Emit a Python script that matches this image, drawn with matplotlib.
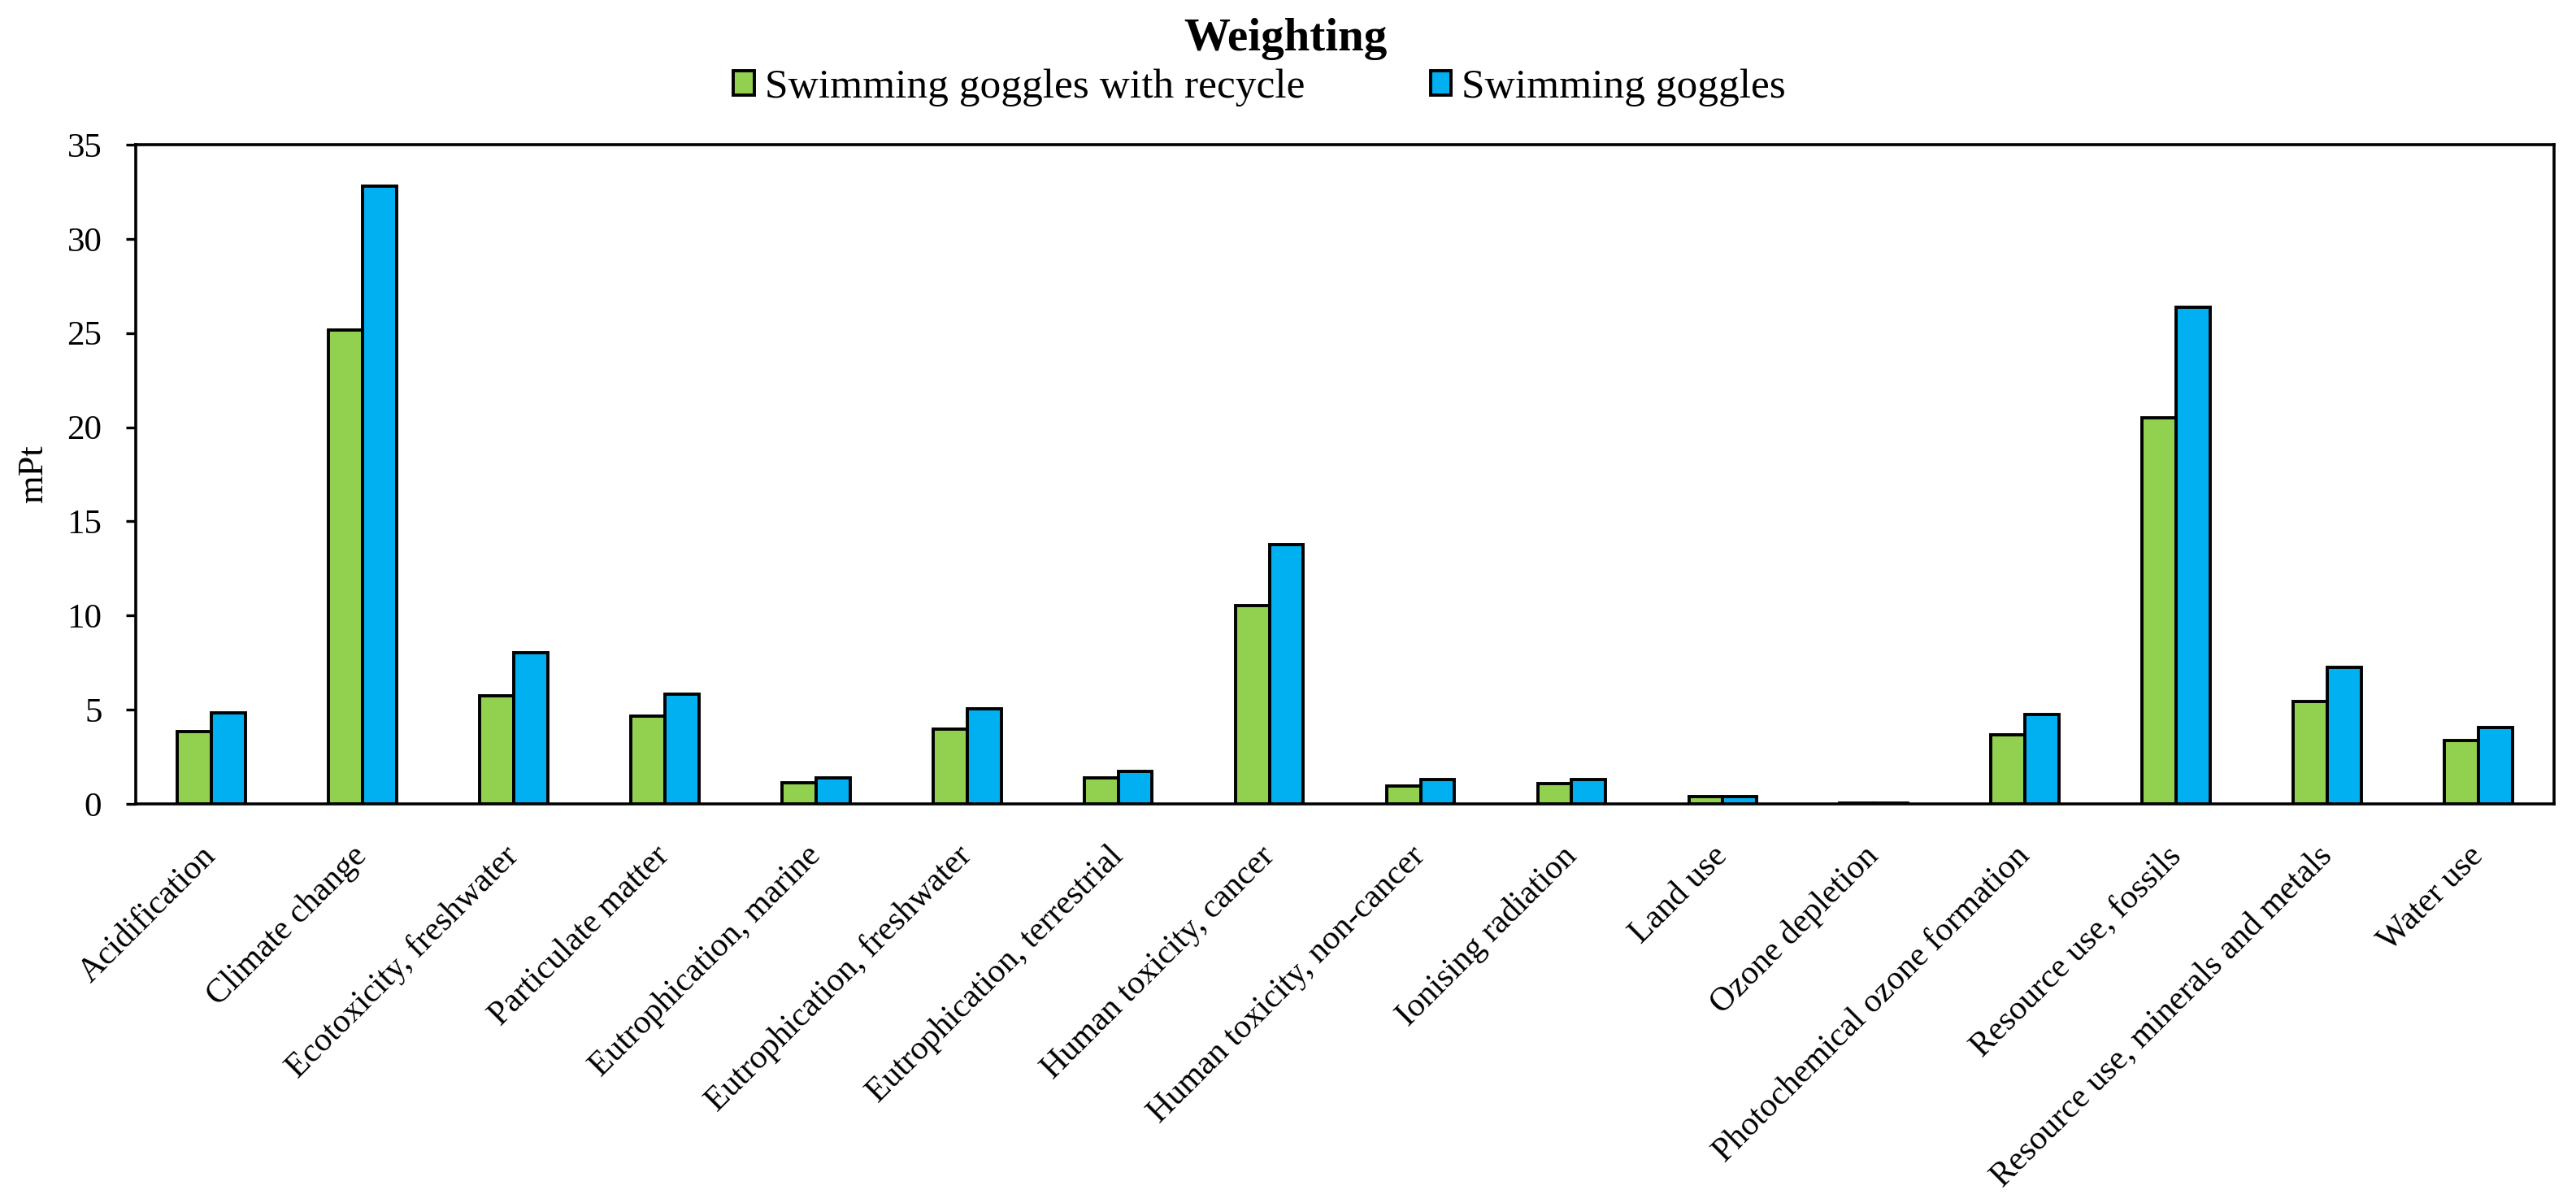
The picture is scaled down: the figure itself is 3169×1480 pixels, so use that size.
#!/usr/bin/env python

# Import numpy for arrays and matplotlib for the plot:
import numpy as np
import matplotlib
matplotlib.use("Agg")
import matplotlib.pyplot as plt

# Categories (impact categories) shown on the x-axis:
categories = ["Acidification", "Climate change", "Ecotoxicity, freshwater",
              "Particulate matter", "Eutrophication, marine",
              "Eutrophication, freshwater", "Eutrophication, terrestrial",
              "Human toxicity, cancer", "Human toxicity, non-cancer",
              "Ionising radiation", "Land use", "Ozone depletion",
              "Photochemical ozone formation", "Resource use, fossils",
              "Resource use, minerals and metals", "Water use"]

# Weighted scores (mPt):
with_recycle = [3.85, 25.14, 5.72, 4.65, 1.10, 3.96, 1.37, 10.51,
                0.96, 1.07, 0.38, 0.05, 3.68, 20.48, 5.45, 3.37]
goggles = [4.81, 32.82, 8.04, 5.83, 1.37, 5.03, 1.73, 13.77,
           1.29, 1.29, 0.39, 0.06, 4.73, 26.35, 7.25, 4.05]

series_names = ["Swimming goggles with recycle", "Swimming goggles"]
y_ticks = [0, 5, 10, 15, 20, 25, 30, 35]

# Times New Roman look-alike:
plt.rcParams["font.family"] = ["Liberation Serif", "DejaVu Serif"]

fig = plt.figure(figsize=(31.69, 14.8), dpi=100)
ax = fig.add_axes([0.0527, 0.3318, 0.9388, 0.5479])

x = np.arange(len(categories))
width = 0.225 # width of one bar

ax.bar(x - width / 2, with_recycle, width, color="#92D050", edgecolor="black",
       linewidth=2.8, label=series_names[0], zorder=3)
ax.bar(x + width / 2, goggles, width, color="#00B0F0", edgecolor="black",
       linewidth=2.8, label=series_names[1], zorder=3)

# Axes limits and ticks:
ax.set_xlim(-0.5, len(categories) - 0.5)
ax.set_ylim(0, 35)
ax.set_yticks(y_ticks)
ax.set_xticks(x)
ax.set_xticklabels(categories, rotation=45, ha="right", va="center",
                   rotation_mode="anchor", fontsize=30)
ax.tick_params(axis="x", length=0, pad=42)
ax.tick_params(axis="y", direction="out", length=9, width=2.4, labelsize=31, pad=21)

for side in ["left", "right", "top", "bottom"]:
    ax.spines[side].set_linewidth(2.6)
    ax.spines[side].set_color("black")

ax.set_ylabel("mPt", fontsize=32, labelpad=15)

# Title and legend above the plot:
fig.text(0.499, 0.958, "Weighting", ha="center", va="baseline",
         fontsize=41, fontweight="bold")
fig.legend(loc="center", bbox_to_anchor=(0.489, 0.927), ncol=2, frameon=False,
           fontsize=37, handlelength=0.5, handleheight=0.5,
           handletextpad=0.25, columnspacing=3.0)

fig.savefig("out.png", dpi=100)
